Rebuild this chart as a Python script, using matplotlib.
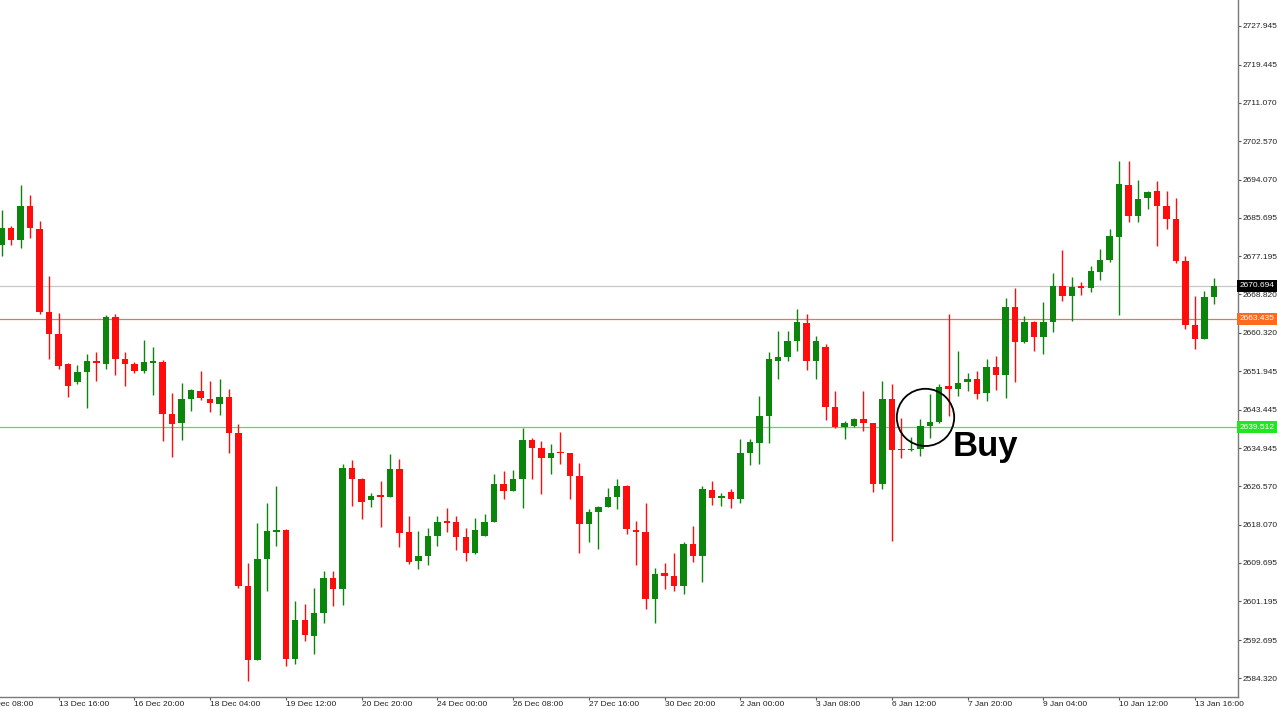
import numpy as np
import matplotlib.pyplot as plt
from matplotlib.patches import Ellipse

# XAUUSD H4 candles (bar 0 = 12 Dec 16:00)
opens = [2679.8, 2683.4, 2680.9, 2688.2, 2683.2, 2665.0, 2660.1, 2653.5, 2649.6, 2651.7,
         2654.2, 2653.6, 2663.9, 2654.6, 2653.5, 2651.9, 2653.8, 2654.0, 2642.5, 2640.4,
         2645.7, 2647.6, 2645.8, 2644.7, 2646.3, 2638.3, 2604.7, 2588.3, 2610.6, 2616.6,
         2616.9, 2588.5, 2597.0, 2593.6, 2598.6, 2606.4, 2603.9, 2630.6, 2628.1, 2623.5,
         2624.5, 2624.2, 2630.4, 2616.5, 2610.0, 2611.3, 2615.6, 2618.9, 2618.8, 2615.3,
         2611.8, 2615.7, 2618.8, 2627.0, 2625.6, 2628.1, 2636.7, 2635.0, 2632.8, 2634.0,
         2633.8, 2628.8, 2618.3, 2620.9, 2622.0, 2624.2, 2626.7, 2616.9, 2616.5, 2601.8,
         2607.4, 2606.9, 2604.7, 2613.9, 2611.2, 2625.7, 2623.9, 2625.4, 2623.8, 2633.8,
         2636.1, 2642.1, 2654.2, 2655.0, 2658.6, 2662.5, 2654.2, 2657.3, 2644.1, 2639.6,
         2639.8, 2641.4, 2640.4, 2627.1, 2645.8, 2634.7, 2634.5, 2634.8, 2639.8, 2640.7,
         2648.6, 2647.9, 2649.6, 2650.1, 2647.0, 2652.9, 2651.0, 2666.1, 2658.4, 2662.8,
         2659.5, 2662.7, 2670.6, 2668.4, 2670.6, 2670.2, 2673.8, 2676.3, 2681.5, 2693.0,
         2686.1, 2690.0, 2691.5, 2688.2, 2685.4, 2676.1, 2662.0, 2659.1, 2668.2]
highs = [2687.3, 2683.9, 2693.0, 2690.8, 2684.9, 2672.9, 2664.7, 2653.8, 2653.2, 2655.8,
         2656.1, 2664.3, 2664.6, 2656.1, 2653.9, 2658.8, 2657.3, 2654.3, 2647.1, 2649.3,
         2648.0, 2651.9, 2649.8, 2650.1, 2648.0, 2640.2, 2609.6, 2618.4, 2622.9, 2626.6,
         2617.2, 2601.2, 2600.6, 2604.2, 2607.8, 2608.0, 2631.5, 2632.3, 2628.3, 2625.1,
         2627.7, 2633.6, 2632.5, 2620.0, 2616.7, 2617.3, 2620.1, 2621.8, 2620.0, 2617.4,
         2619.5, 2620.4, 2629.3, 2629.9, 2630.1, 2639.4, 2637.2, 2636.5, 2635.8, 2638.6,
         2633.9, 2631.7, 2621.6, 2622.3, 2626.2, 2628.2, 2626.9, 2618.9, 2622.8, 2608.6,
         2609.7, 2611.8, 2614.3, 2617.9, 2626.7, 2627.7, 2625.1, 2626.0, 2636.9, 2636.9,
         2646.4, 2656.1, 2660.7, 2660.8, 2665.5, 2664.6, 2659.6, 2657.8, 2647.5, 2640.9,
         2641.5, 2647.5, 2640.6, 2649.7, 2649.0, 2641.6, 2637.5, 2641.3, 2646.9, 2649.0,
         2664.6, 2656.3, 2651.5, 2651.9, 2654.6, 2655.3, 2668.0, 2670.2, 2664.1, 2663.0,
         2667.2, 2673.5, 2678.5, 2672.7, 2671.6, 2675.0, 2678.8, 2683.3, 2698.3, 2698.3,
         2694.1, 2691.5, 2693.7, 2691.5, 2690.0, 2677.3, 2668.4, 2669.6, 2672.4]
lows = [2677.3, 2679.8, 2679.0, 2681.2, 2664.6, 2654.7, 2652.5, 2646.3, 2649.0, 2643.7,
        2649.7, 2652.5, 2651.0, 2648.6, 2651.5, 2651.4, 2646.6, 2636.5, 2633.1, 2636.7,
        2643.2, 2645.5, 2642.9, 2642.2, 2633.9, 2604.2, 2583.6, 2588.2, 2603.5, 2613.4,
        2587.0, 2587.4, 2592.5, 2589.6, 2596.5, 2600.2, 2600.4, 2622.2, 2619.4, 2622.0,
        2617.7, 2624.1, 2613.2, 2609.5, 2608.3, 2609.2, 2613.5, 2616.5, 2612.5, 2610.1,
        2611.7, 2615.6, 2618.7, 2623.7, 2625.5, 2621.8, 2628.1, 2624.8, 2629.2, 2631.5,
        2623.7, 2611.8, 2614.3, 2612.8, 2621.9, 2621.6, 2616.0, 2609.2, 2599.6, 2596.4,
        2604.0, 2603.5, 2602.8, 2609.9, 2605.5, 2622.4, 2622.3, 2621.7, 2622.8, 2631.2,
        2631.4, 2636.1, 2650.2, 2654.1, 2656.3, 2652.1, 2650.1, 2641.1, 2639.5, 2636.9,
        2639.7, 2638.7, 2625.3, 2626.0, 2614.5, 2632.8, 2634.3, 2633.2, 2637.2, 2640.4,
        2642.0, 2646.5, 2647.5, 2645.8, 2645.3, 2647.7, 2646.0, 2649.6, 2658.2, 2656.4,
        2655.7, 2660.5, 2667.3, 2662.9, 2668.6, 2669.3, 2671.9, 2676.0, 2664.2, 2684.7,
        2684.7, 2687.7, 2679.4, 2683.3, 2675.7, 2661.1, 2656.8, 2659.0, 2666.6]
closes = [2683.4, 2680.9, 2688.3, 2683.4, 2664.9, 2660.1, 2653.1, 2648.6, 2651.7, 2654.1,
          2653.7, 2663.8, 2654.7, 2653.4, 2651.9, 2653.9, 2654.1, 2642.5, 2640.3, 2645.7,
          2647.7, 2645.9, 2644.9, 2646.3, 2638.3, 2604.6, 2588.3, 2610.6, 2616.7, 2617.0,
          2588.5, 2597.0, 2593.7, 2598.7, 2606.4, 2603.9, 2630.6, 2628.1, 2623.1, 2624.4,
          2624.3, 2630.4, 2616.3, 2609.9, 2611.3, 2615.7, 2618.8, 2618.5, 2615.3, 2611.8,
          2616.9, 2618.8, 2627.0, 2625.6, 2628.1, 2636.7, 2635.0, 2632.8, 2633.9, 2633.8,
          2628.8, 2618.3, 2620.9, 2621.9, 2624.2, 2626.7, 2617.1, 2616.5, 2601.8, 2607.3,
          2606.8, 2604.7, 2613.9, 2611.2, 2625.9, 2624.0, 2624.5, 2623.8, 2633.8, 2636.3,
          2642.1, 2654.5, 2655.1, 2658.6, 2662.7, 2654.2, 2658.5, 2644.1, 2639.6, 2640.5,
          2641.3, 2640.4, 2627.1, 2645.8, 2634.5, 2634.5, 2634.8, 2639.8, 2640.7, 2648.5,
          2647.9, 2649.3, 2650.1, 2646.9, 2652.9, 2651.0, 2666.1, 2658.4, 2662.7, 2659.5,
          2662.7, 2670.6, 2668.4, 2670.5, 2670.3, 2673.9, 2676.3, 2681.7, 2693.1, 2686.1,
          2689.8, 2691.3, 2688.2, 2685.4, 2676.2, 2662.0, 2659.1, 2668.2, 2670.7]

# time axis labels, one every 8 bars starting at bar -2
time_labels = ["12 Dec 08:00", "13 Dec 16:00", "16 Dec 20:00", "18 Dec 04:00", "19 Dec 12:00",
               "20 Dec 20:00", "24 Dec 00:00", "26 Dec 08:00", "27 Dec 16:00", "30 Dec 20:00",
               "2 Jan 00:00", "3 Jan 08:00", "6 Jan 12:00", "7 Jan 20:00", "9 Jan 04:00",
               "10 Jan 12:00", "13 Jan 16:00"]
time_ticks = [-2 + 8 * k for k in range(len(time_labels))]

price_ticks = [2727.945, 2719.445, 2711.070, 2702.570, 2694.070, 2685.695, 2677.195,
               2668.820, 2660.320, 2651.945, 2643.445, 2634.945, 2626.570, 2618.070,
               2609.695, 2601.195, 2592.695, 2584.320]

bid_level = 2670.694
resistance = 2663.435
support = 2639.512

UP = '#0b850b'
DOWN = '#ff0d0d'
FS = 6.0

fig = plt.figure(figsize=(12.77, 7.09), dpi=100)
ax = fig.add_axes([0, 12 / 709, 1238 / 1277, 697 / 709])

x = np.arange(len(opens))
o = np.array(opens)
c = np.array(closes)
col = [UP if cc >= oo else DOWN for oo, cc in zip(o, c)]

ax.vlines(x, lows, highs, colors=col, linewidth=1.0, zorder=3)
body_bottom = np.minimum(o, c)
body_h = np.maximum(np.abs(c - o), 0.35)
ax.bar(x, body_h, bottom=body_bottom, width=0.68, color=col, linewidth=0, zorder=4)

# levels
ax.axhline(bid_level, color='#c8c8c8', linewidth=0.9, zorder=1)
ax.axhline(resistance, color='#e8784a', linewidth=0.9, zorder=1)
ax.axhline(support, color='#55e055', linewidth=0.9, zorder=1)

ax.spines['left'].set_visible(False)
ax.spines['top'].set_visible(False)
for s in ('right', 'bottom'):
    ax.spines[s].set_color('#7a7a7a')
    ax.spines[s].set_linewidth(1.0)

ax.yaxis.tick_right()
ax.set_yticks(price_ticks)
ax.set_yticklabels([f"{p:.3f}" for p in price_ticks])
ax.tick_params(axis='y', direction='out', length=2, width=0.8, color='#555555',
               pad=1, labelsize=FS, labelcolor='#222222')

ax.set_xticks(time_ticks)
ax.set_xticklabels(time_labels)
ax.tick_params(axis='x', direction='out', length=2, width=0.8, color='#555555',
               pad=1, labelsize=FS, labelcolor='#222222')
for lab in ax.get_xticklabels():
    lab.set_horizontalalignment('left')
for lab in ax.get_xticklabels() + ax.get_yticklabels():
    lab.set_family('Liberation Sans')

# limits last: set_xticks would otherwise widen them
ax.set_xlim(-0.18, 130.55)
ax.set_ylim(2580.15, 2733.66)

# first time label sits left of the view, cut off by the edge as in MT4
ax.text(time_ticks[0], -0.006, time_labels[0], transform=ax.get_xaxis_transform(),
        ha='left', va='top', fontsize=FS, family='Liberation Sans', color='#222222',
        clip_on=False)

# price tags on the scale
tr = ax.get_yaxis_transform()
for val, bg in ((bid_level, '#000000'), (resistance, '#ff6a1f'), (support, '#22e622')):
    ax.text(1.0015, val, f"{val:.3f}", transform=tr, ha='left', va='center',
            fontsize=FS, family='Liberation Sans', color='white', clip_on=False, zorder=6,
            bbox=dict(boxstyle='square,pad=0.3', facecolor=bg, edgecolor='none'))

# buy signal annotation
ax.add_patch(Ellipse((97.55, 2641.73), 6.06, 12.6, fill=False, edgecolor='black',
                     linewidth=1.3, zorder=5))
ax.text(100.4, 2633.2, "Buy", fontsize=25, fontweight='bold', family='Liberation Sans',
        color='black', ha='left', va='baseline', zorder=6)

fig.savefig('out.png', dpi=100, facecolor='white')
